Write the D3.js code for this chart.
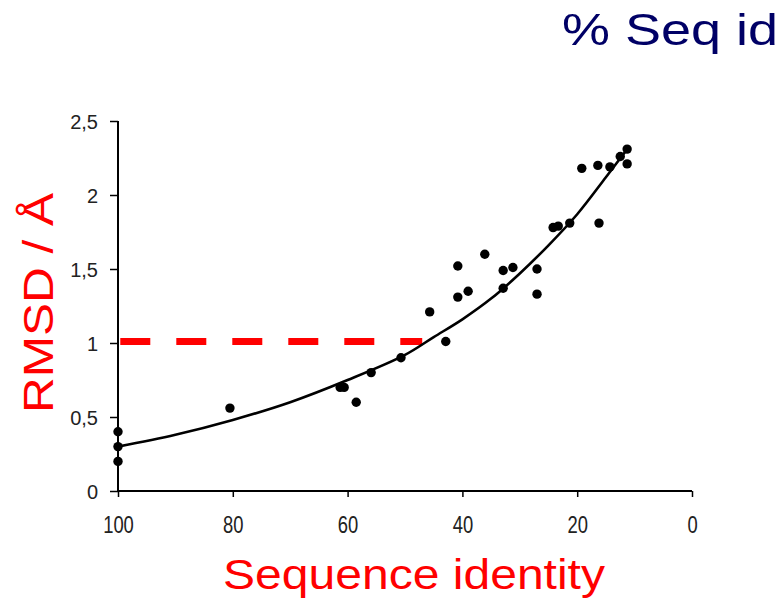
<!DOCTYPE html>
<html>
<head>
<meta charset="utf-8">
<script src="https://cdn.jsdelivr.net/npm/d3@7"></script>
<style>
  html, body { margin: 0; padding: 0; background: #fff; }
  svg { display: block; }
  text { font-family: "Liberation Sans", Arial, sans-serif; }
</style>
</head>
<body>
<script>
// ---- Data ----
const seqIdentity = [100, 100, 100, 80.5, 61.3, 60.6, 58.5, 55.9, 50.7, 45.7, 42.9, 40.8, 40.8, 39.0, 36.1,
                     32.9, 32.9, 31.2, 27.0, 27.0, 24.2, 23.3, 21.3, 19.2, 16.4, 16.2, 14.3, 12.5, 11.3, 11.3];
const rmsd        = [0.40, 0.30, 0.20, 0.56, 0.70, 0.70, 0.60, 0.80, 0.90, 1.21, 1.01, 1.52, 1.31, 1.35, 1.60,
                     1.49, 1.37, 1.51, 1.50, 1.33, 1.78, 1.79, 1.81, 2.18, 2.20, 1.81, 2.19, 2.26, 2.31, 2.21];

// trend curve
const trendX = [100, 90, 80, 70, 60, 50, 45, 40, 35, 30, 25, 20, 15, 10.9];
const trendY = [0.30, 0.38, 0.48, 0.60, 0.75, 0.92, 1.04, 1.16, 1.30, 1.47, 1.66, 1.87, 2.12, 2.33];

// red dashed threshold
const thresholdX = [99.6, 47.0];
const thresholdY = 1.01;

const xTicks = [100, 80, 60, 40, 20, 0];
const yTicks = [0, 0.5, 1, 1.5, 2, 2.5];
const yTickLabels = ["0", "0,5", "1", "1,5", "2", "2,5"];

const titleText = "% Seq id";
const xTitle = "Sequence identity";
const yTitle = "RMSD / Å";

// ---- Drawing ----
const W = 784, H = 599;
const svg = d3.select("body").append("svg").attr("width", W).attr("height", H);

const x = d3.scaleLinear().domain([100, 0]).range([118, 692]);
const y = d3.scaleLinear().domain([0, 2.5]).range([491, 121]);

// axes
const yAxis = svg.append("g").attr("transform", `translate(${x(100)},0)`)
  .call(d3.axisLeft(y).tickValues(yTicks).tickSize(8).tickFormat((d, i) => yTickLabels[i]));
yAxis.select(".domain").attr("stroke", "#000").attr("stroke-width", 2).attr("d", `M0,${y(2.5)}V${y(0)}`);
yAxis.selectAll(".tick line").attr("stroke", "#000").attr("stroke-width", 1.5);
yAxis.selectAll(".tick text").attr("x", -20).attr("fill", "#222")
  .style("font-size", "20px").attr("dy", "0.35em");

const xAxis = svg.append("g").attr("transform", `translate(0,${y(0)})`)
  .call(d3.axisBottom(x).tickValues(xTicks).tickSize(6).tickFormat(d3.format("d")));
xAxis.select(".domain").attr("stroke", "#000").attr("stroke-width", 2).attr("d", `M${x(100)},0H${x(0)}`);
xAxis.selectAll(".tick line").attr("stroke", "#000").attr("stroke-width", 1.5);
xAxis.selectAll(".tick text").attr("y", 0).attr("dy", 0).attr("fill", "#222")
  .style("font-size", "23px")
  .attr("transform", "translate(0,42) scale(0.8,1)");

// threshold dashed line
svg.append("line")
  .attr("x1", x(thresholdX[0])).attr("x2", x(thresholdX[1]))
  .attr("y1", y(thresholdY)).attr("y2", y(thresholdY))
  .attr("stroke", "#ff0000").attr("stroke-width", 7)
  .attr("stroke-dasharray", "30,26");

// trend curve
const pts = trendX.map((d, i) => [d, trendY[i]]);
svg.append("path")
  .attr("d", d3.line().x(d => x(d[0])).y(d => y(d[1])).curve(d3.curveCatmullRom)(pts))
  .attr("fill", "none").attr("stroke", "#000").attr("stroke-width", 2.6);

// points
svg.append("g").selectAll("circle")
  .data(seqIdentity.map((d, i) => [d, rmsd[i]]))
  .join("circle")
  .attr("cx", d => x(d[0])).attr("cy", d => y(d[1]))
  .attr("r", 4.7).attr("fill", "#000");

// titles
svg.append("text").attr("x", 562).attr("y", 45)
  .attr("fill", "#000066").style("font-size", "45px")
  .attr("textLength", 216).attr("lengthAdjust", "spacingAndGlyphs")
  .text(titleText);

svg.append("text").attr("x", 223).attr("y", 589)
  .attr("fill", "#ff0000").style("font-size", "43px")
  .attr("textLength", 382).attr("lengthAdjust", "spacingAndGlyphs")
  .text(xTitle);

svg.append("text").attr("transform", "translate(53,413) rotate(-90)")
  .attr("fill", "#ff0000").style("font-size", "42px")
  .attr("textLength", 220).attr("lengthAdjust", "spacingAndGlyphs")
  .text(yTitle);
</script>
</body>
</html>
